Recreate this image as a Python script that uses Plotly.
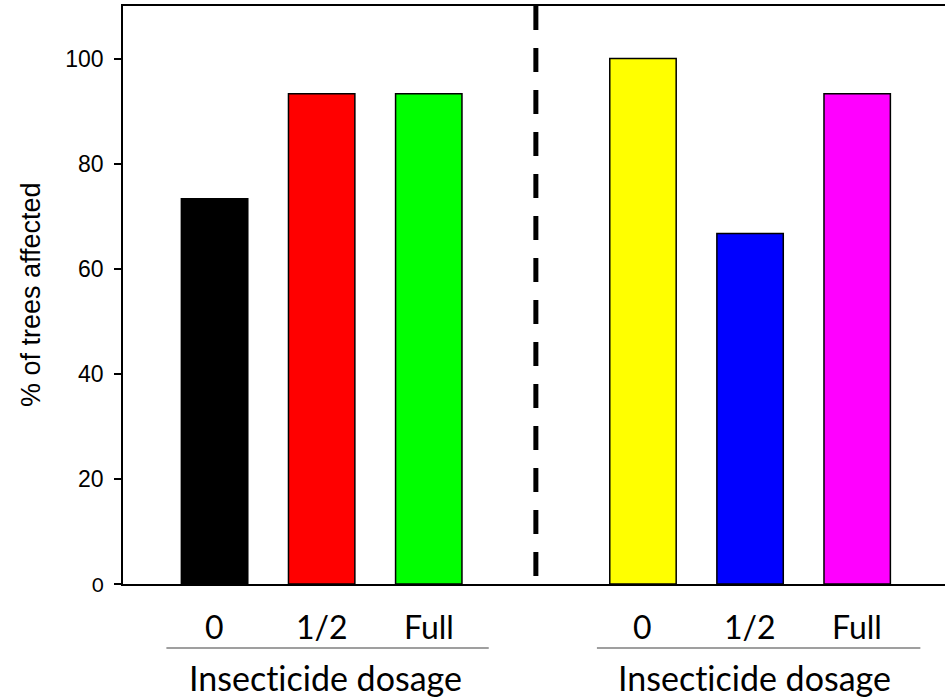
import plotly.graph_objects as go

# ---- data ----
dosage_labels = ["0", "1/2", "Full"]
left_values = [73.3, 93.3, 93.3]
right_values = [100.0, 66.7, 93.3]
left_colors = ["#000000", "#ff0000", "#00ff00"]
right_colors = ["#ffff00", "#0000ff", "#ff00ff"]
y_ticks = [0, 20, 40, 60, 80, 100]
y_title = "% of trees affected"
group_title = "Insecticide dosage"

left_cats = ["L " + d for d in dosage_labels]
right_cats = ["R " + d for d in dosage_labels]
gap_cat = "gap"
all_cats = left_cats + [gap_cat] + right_cats

fig = go.Figure()
fig.add_trace(go.Bar(
    x=left_cats + right_cats,
    y=left_values + right_values,
    marker=dict(color=left_colors + right_colors,
                line=dict(color="black", width=1.5)),
    width=0.62,
    showlegend=False,
    hoverinfo="skip",
))

W, H = 945, 697
L, T, B = 123, 6, 113

fig.update_layout(
    width=W, height=H,
    margin=dict(l=L, r=0, t=T, b=B, pad=0),
    plot_bgcolor="white", paper_bgcolor="white",
    font=dict(family="Arial", color="black"),
    xaxis=dict(
        type="category", categoryorder="array", categoryarray=all_cats,
        range=[-0.855, 6.82],
        showticklabels=False, ticks="",
        showline=True, linecolor="black", linewidth=1.5, mirror=True,
        showgrid=False, zeroline=False,
    ),
    yaxis=dict(
        range=[0, 110],
        tickvals=y_ticks,
        ticktext=["<span style='font-family:Lato;font-size:20px'>0</span>"] + [str(v) for v in y_ticks[1:]],
        ticks="outside", ticklen=7, tickwidth=1.5, tickcolor="black",
        tickfont=dict(family="Arial", size=23, color="black"),
        ticklabelstandoff=6,
        showline=True, linecolor="black", linewidth=1.5,
        showgrid=False, zeroline=False,
    ),
)

# dashed separator between the two groups
fig.add_shape(type="line", xref="x", yref="y",
              x0=gap_cat, x1=gap_cat, y0=110, y1=0,
              line=dict(color="black", width=5, dash="24px,18px"))

plot_h = H - T - B

def py(pix):
    return (H - B - pix) / plot_h

# category labels and group titles
for cats in (left_cats, right_cats):
    for c, lab in zip(cats, dosage_labels):
        fig.add_annotation(x=c, xref="x", y=py(626), yref="paper",
                           text=lab, showarrow=False, xanchor="center", yanchor="middle",
                           font=dict(family="Lato", size=32, color="black"))
    fig.add_shape(type="line", xref="x", yref="paper",
                  x0=-0.45 if cats is left_cats else 3.57,
                  x1=2.56 if cats is left_cats else 6.59,
                  y0=py(648), y1=py(648),
                  line=dict(color="#404040", width=1.2))
    fig.add_annotation(x=cats[1], xref="x", y=py(677), yref="paper",
                       xshift=4,
                       text="<span style='font-variant-ligatures:none;font-feature-settings:\"liga\" 0'>"
                            + group_title + "</span>",
                       showarrow=False, xanchor="center", yanchor="middle",
                       font=dict(family="Lato", size=34, color="black"))

fig.add_annotation(x=(31 - L) / (W - L), xref="paper", y=py(295), yref="paper",
                   text=y_title, textangle=-90, showarrow=False,
                   xanchor="center", yanchor="middle",
                   font=dict(family="Arial", size=27, color="black"))

fig.write_html("out.html",
               config={"displayModeBar": False},
               post_script="document.body.style.margin='0px';document.body.style.overflow='hidden';"
                           "document.querySelectorAll('text').forEach(function(t){t.style.fontVariantLigatures='none';});")
